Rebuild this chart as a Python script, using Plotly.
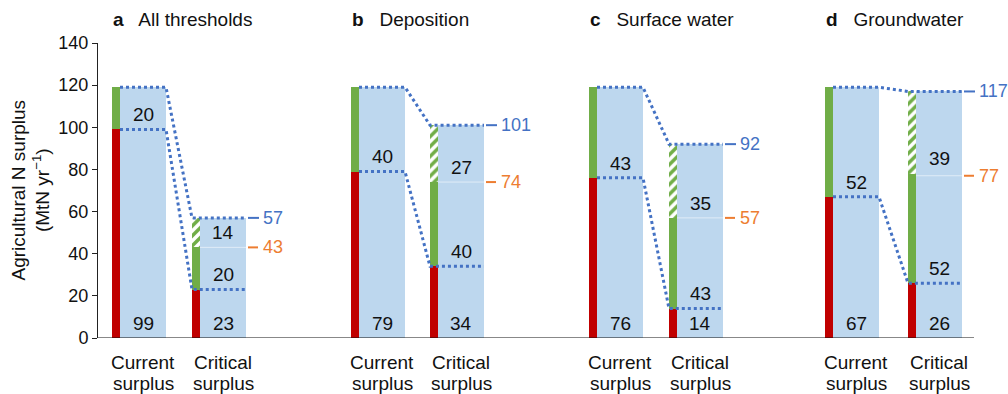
import plotly.graph_objects as go

# ---------------- data ----------------
letters = ["a", "b", "c", "d"]
titles = ["All thresholds", "Deposition", "Surface water", "Groundwater"]
cur_red = [99, 79, 76, 67]
cur_green = [20, 40, 43, 52]
crit_red = [23, 34, 14, 26]
crit_green = [20, 40, 43, 52]
crit_hatch = [14, 27, 35, 39]
crit_orange = [43, 74, 57, 77]
crit_total = [57, 101, 92, 117]
cat_line1 = ["Current", "Critical"]
cat_line2 = ["surplus", "surplus"]
y_ticks = [0, 20, 40, 60, 80, 100, 120, 140]

# ---------------- layout positions (x axis in pixel-like units) ----------------
cur_left = [112, 351, 589, 825]
crit_left = [192, 430, 669, 908]
RED_W = 8
BLUE_W = 46
X_MIN, X_MAX, BASE_END = 98, 1008, 974

RED = "#c00000"
GREEN = "#70ad47"
PALE_GREEN = "#e4f0dc"
LBLUE = "#bdd7ee"
DBLUE = "#4472c4"
ORANGE = "#ed7d31"
FONT = "Liberation Sans, Arial, Helvetica, sans-serif"
TXT = 19

fig = go.Figure()


def bar(x, base, h, w, color, pattern=None):
    m = dict(color=color, line=dict(width=0))
    if pattern:
        m["pattern"] = pattern
    fig.add_trace(go.Bar(x=[x], y=[h], base=[base], width=[w], marker=m,
                         showlegend=False, hoverinfo="skip"))


def seg(xs, ys, color, width, dash="solid"):
    fig.add_trace(go.Scatter(x=xs, y=ys, mode="lines",
                             line=dict(color=color, width=width, dash=dash),
                             showlegend=False, hoverinfo="skip"))


annotations = []
for i in range(4):
    c0 = cur_left[i]
    k0 = crit_left[i]
    cur_top = cur_red[i] + cur_green[i]
    crit_mid = crit_red[i] + crit_green[i]
    # blue backgrounds
    bar(c0 + RED_W + BLUE_W / 2, 0, cur_top, BLUE_W, LBLUE)
    bar(k0 + RED_W + BLUE_W / 2, 0, crit_total[i], BLUE_W, LBLUE)
    # current stacked
    bar(c0 + RED_W / 2, 0, cur_red[i], RED_W, RED)
    bar(c0 + RED_W / 2, cur_red[i], cur_green[i], RED_W, GREEN)
    # critical stacked
    bar(k0 + RED_W / 2, 0, crit_red[i], RED_W, RED)
    bar(k0 + RED_W / 2, crit_red[i], crit_green[i], RED_W, GREEN)
    bar(k0 + RED_W / 2, crit_mid, crit_total[i] - crit_mid, RED_W, PALE_GREEN,
        pattern=dict(shape="/", fgcolor=GREEN, size=7, solidity=0.5, fillmode="replace"))
    # faint line at orange level in critical blue bar
    seg([k0 + RED_W, k0 + RED_W + BLUE_W], [crit_orange[i]] * 2, "#e0ecf7", 1)
    # dotted connector lines
    for ya, yb in [(cur_top, crit_total[i]), (cur_red[i], crit_red[i])]:
        seg([c0 + RED_W, c0 + RED_W + BLUE_W, k0, k0 + RED_W + BLUE_W],
            [ya, ya, yb, yb], DBLUE, 3, "dot")
    # short markers on the right
    xr = k0 + RED_W + BLUE_W
    seg([xr + 2, xr + 13], [crit_total[i]] * 2, DBLUE, 2)
    seg([xr + 2, xr + 12], [crit_orange[i]] * 2, ORANGE, 2)
    annotations.append(dict(x=xr + 15, y=crit_total[i], xref="x", yref="y", text=str(crit_total[i]),
                            showarrow=False, xanchor="left", yanchor="middle",
                            font=dict(size=18, color=DBLUE, family=FONT)))
    annotations.append(dict(x=xr + 15, y=crit_orange[i], xref="x", yref="y", text=str(crit_orange[i]),
                            showarrow=False, xanchor="left", yanchor="middle",
                            font=dict(size=18, color=ORANGE, family=FONT)))
    # value labels
    cx = c0 + RED_W + BLUE_W / 2
    kx = k0 + RED_W + BLUE_W / 2
    for x, base, val in [(cx, 0, cur_red[i]), (cx, cur_red[i], cur_green[i]),
                         (kx, 0, crit_red[i]), (kx, crit_red[i], crit_green[i]),
                         (kx, crit_mid, crit_hatch[i])]:
        annotations.append(dict(x=x, y=base + 7, xref="x", yref="y", text=str(val),
                                showarrow=False, xanchor="center", yanchor="middle",
                                font=dict(size=TXT, color="#111", family=FONT)))
    # category labels (two lines, tight spacing)
    for x, j in [(cx, 0), (kx, 1)]:
        annotations.append(dict(x=x, y=0, xref="x", yref="y", text=cat_line1[j], showarrow=False,
                                xanchor="center", yanchor="middle", yshift=-24,
                                font=dict(size=TXT, color="#111", family=FONT)))
        annotations.append(dict(x=x, y=0, xref="x", yref="y", text=cat_line2[j], showarrow=False,
                                xanchor="center", yanchor="middle", yshift=-45,
                                font=dict(size=TXT, color="#111", family=FONT)))
    # panel title
    annotations.append(dict(x=c0 - 1, y=(338 - 20) / 295, xref="x", yref="paper",
                            text=f"<b>{letters[i]}</b>   {titles[i]}", showarrow=False,
                            xanchor="left", yanchor="middle",
                            font=dict(size=TXT, color="#111", family=FONT)))

# baseline (x axis line)
seg([X_MIN, BASE_END], [0, 0], "#111", 1)

# y axis title
annotations.append(dict(x=(30 - X_MIN) / (X_MAX - X_MIN), y=0.5, xref="paper", yref="paper",
                        text="Agricultural N surplus<br>(MtN yr<sup>−1</sup>)",
                        textangle=-90, showarrow=False, xanchor="center", yanchor="middle",
                        font=dict(size=TXT, color="#111", family=FONT)))

fig.update_layout(
    width=1008, height=394,
    margin=dict(l=98, r=0, t=43, b=56),
    paper_bgcolor="white", plot_bgcolor="white",
    barmode="overlay", bargap=0,
    showlegend=False,
    annotations=annotations,
    font=dict(family=FONT, size=TXT, color="#111"),
    xaxis=dict(range=[X_MIN, X_MAX], showgrid=False, zeroline=False, showticklabels=False,
               showline=False, ticks=""),
    yaxis=dict(range=[0, 140], tickvals=y_ticks, showgrid=False, zeroline=False,
               showline=True, linecolor="#222", linewidth=1, ticks="outside",
               ticklen=5, tickcolor="#222", tickfont=dict(size=18, color="#111", family=FONT)),
)

fig.write_html("out.html", config={"displayModeBar": False},
               post_script="document.body.style.margin='0';")
